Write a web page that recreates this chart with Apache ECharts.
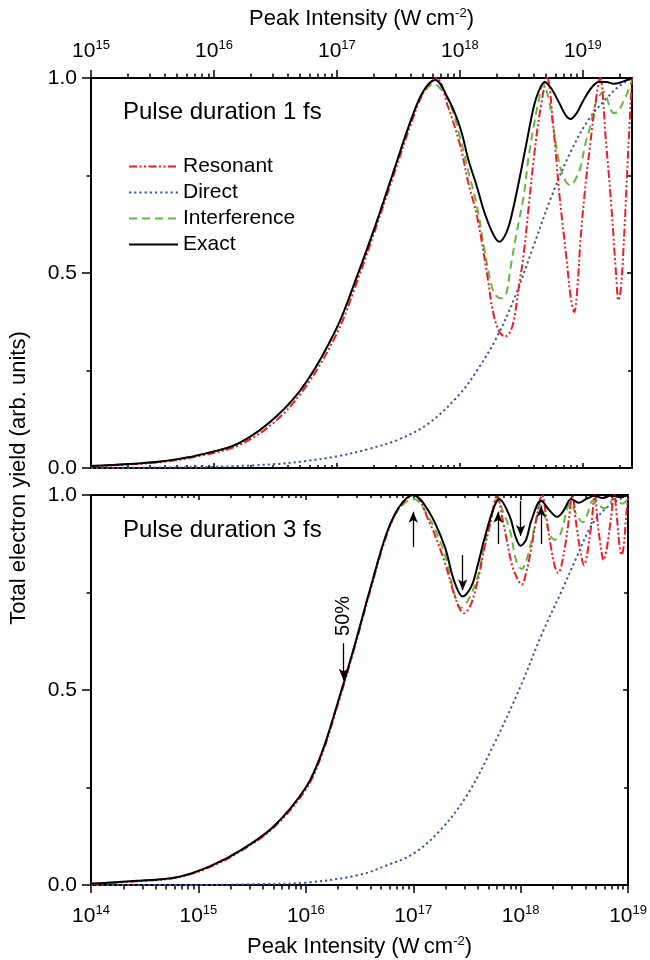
<!DOCTYPE html>
<html><head><meta charset="utf-8">
<script src="https://cdn.jsdelivr.net/npm/echarts@6/dist/echarts.min.js"></script>
<style>html,body{margin:0;padding:0;background:#fff}#c{width:650px;height:960px}</style>
</head><body><div id="c"></div>
<script>
// ---------- DATA (x = log10 of peak intensity in W cm^-2, y = total electron yield) ----------
const seriesNames = ['Resonant', 'Direct', 'Interference', 'Exact'];
const panelLabels = ['Pulse duration 1 fs', 'Pulse duration 3 fs'];
const yTickLabels = ['0.0', '0.5', '1.0'];
const topMajorExp = [15, 16, 17, 18, 19];
const bottomMajorExp = [14, 15, 16, 17, 18, 19];
const minorMultipliers = [2, 3, 4, 5, 6, 7, 8, 9];

// 1 fs panel
const fs1ExactX = [15.0,15.3,15.6,15.9,16.2,16.5,16.75,17.0,17.15,17.3,17.45,17.6,17.7,17.8,17.9,18.0,18.07,18.14,18.2,18.27,18.32,18.38,18.43,18.49,18.54,18.6,18.64,18.69,18.75,18.81,18.86,18.9,18.95,19.0,19.07,19.13,19.19,19.25,19.32,19.4];
const fs1ExactY = [0.005,0.01,0.018,0.035,0.063,0.13,0.22,0.36,0.48,0.61,0.75,0.89,0.965,0.995,0.95,0.875,0.79,0.72,0.655,0.60,0.58,0.605,0.66,0.75,0.83,0.925,0.965,0.99,0.97,0.935,0.905,0.895,0.91,0.94,0.975,0.99,0.99,0.985,0.99,1.0];
const fs1ResonantX = [15.0,15.3,15.6,15.9,16.2,16.5,16.75,17.0,17.15,17.3,17.45,17.6,17.7,17.81,17.9,18.0,18.07,18.14,18.22,18.27,18.32,18.37,18.41,18.44,18.48,18.52,18.56,18.6,18.65,18.71,18.76,18.81,18.87,18.9,18.93,18.96,18.98,19.02,19.06,19.1,19.14,19.19,19.23,19.27,19.29,19.31,19.34,19.37,19.4];
const fs1ResonantY = [0.004,0.009,0.016,0.032,0.058,0.12,0.21,0.345,0.465,0.60,0.74,0.88,0.96,1.0,0.93,0.83,0.73,0.645,0.50,0.40,0.35,0.337,0.35,0.38,0.465,0.55,0.67,0.79,0.91,1.0,0.875,0.70,0.53,0.44,0.40,0.48,0.58,0.72,0.83,0.93,1.0,0.83,0.68,0.50,0.43,0.46,0.62,0.82,1.0];
const fs1InterfX = [15.0,15.3,15.6,15.9,16.2,16.5,16.75,17.0,17.15,17.3,17.45,17.6,17.7,17.79,17.86,17.92,18.0,18.07,18.14,18.2,18.26,18.3,18.34,18.38,18.41,18.46,18.52,18.56,18.6,18.64,18.68,18.72,18.76,18.81,18.86,18.9,18.94,18.98,19.02,19.06,19.11,19.17,19.21,19.25,19.29,19.33,19.36,19.4];
const fs1InterfY = [0.005,0.01,0.018,0.035,0.063,0.13,0.22,0.36,0.48,0.61,0.75,0.89,0.96,0.985,0.965,0.935,0.85,0.76,0.67,0.56,0.465,0.44,0.435,0.45,0.51,0.60,0.70,0.80,0.875,0.94,0.985,0.95,0.875,0.78,0.735,0.725,0.74,0.77,0.83,0.875,0.94,0.965,0.935,0.91,0.915,0.94,0.96,0.995];
const fs1DirectX = [15.0,15.5,16.0,16.5,16.75,17.0,17.25,17.5,17.75,18.0,18.15,18.3,18.45,18.6,18.75,18.9,19.05,19.2,19.3,19.4];
const fs1DirectY = [0.0,0.001,0.003,0.01,0.018,0.03,0.048,0.073,0.115,0.19,0.255,0.335,0.44,0.57,0.70,0.81,0.895,0.95,0.98,1.0];

// 3 fs panel
const fs3ExactX = [14.0,14.4,14.8,15.1,15.4,15.7,16.0,16.15,16.3,16.45,16.6,16.75,16.87,17.0,17.14,17.29,17.38,17.46,17.54,17.6,17.66,17.74,17.8,17.9,17.95,18.0,18.05,18.1,18.19,18.27,18.34,18.4,18.47,18.54,18.61,18.69,18.76,18.84,18.92,19.0];
const fs3ExactY = [0.003,0.01,0.02,0.047,0.09,0.15,0.25,0.34,0.47,0.61,0.76,0.90,0.97,1.0,0.96,0.87,0.78,0.74,0.765,0.82,0.885,0.96,0.99,0.944,0.895,0.87,0.885,0.935,0.985,0.96,0.944,0.96,0.99,0.98,0.99,0.998,0.992,0.998,0.995,1.0];
const fs3ResonantX = [14.0,14.4,14.8,15.1,15.4,15.7,16.0,16.15,16.3,16.45,16.6,16.75,16.87,17.0,17.15,17.29,17.4,17.47,17.53,17.6,17.66,17.72,17.78,17.83,17.87,17.92,17.97,18.01,18.05,18.09,18.15,18.2,18.24,18.28,18.32,18.35,18.38,18.42,18.45,18.48,18.52,18.56,18.59,18.62,18.66,18.69,18.72,18.75,18.77,18.8,18.84,18.87,18.9,18.92,18.94,18.96,18.98,19.0];
const fs3ResonantY = [0.003,0.009,0.019,0.045,0.088,0.147,0.245,0.335,0.465,0.605,0.755,0.895,0.968,1.0,0.93,0.83,0.73,0.697,0.715,0.78,0.86,0.93,1.0,0.94,0.885,0.82,0.785,0.77,0.80,0.85,0.944,1.0,0.94,0.87,0.815,0.80,0.82,0.88,0.94,1.0,0.92,0.85,0.82,0.85,0.93,1.0,0.92,0.86,0.833,0.86,0.94,1.0,0.93,0.87,0.846,0.87,0.94,1.0];
const fs3InterfX = [14.0,14.4,14.8,15.1,15.4,15.7,16.0,16.15,16.3,16.45,16.6,16.75,16.87,17.0,17.15,17.29,17.38,17.44,17.5,17.6,17.66,17.72,17.78,17.84,17.9,17.96,18.01,18.05,18.09,18.14,18.18,18.22,18.27,18.32,18.37,18.42,18.46,18.52,18.58,18.62,18.67,18.72,18.78,18.82,18.86,18.9,18.95,19.0];
const fs3InterfY = [0.003,0.01,0.02,0.047,0.09,0.15,0.25,0.34,0.47,0.61,0.76,0.90,0.965,0.99,0.94,0.85,0.75,0.71,0.725,0.79,0.87,0.935,0.99,0.955,0.91,0.83,0.81,0.83,0.87,0.93,0.975,0.95,0.90,0.885,0.90,0.95,0.98,0.95,0.93,0.95,0.985,0.975,0.966,0.975,0.99,0.985,0.978,0.99];
const fs3DirectX = [14.0,15.0,15.5,16.0,16.5,16.75,17.0,17.25,17.5,17.75,18.0,18.2,18.4,18.52,18.67,18.83,19.0];
const fs3DirectY = [0.0,0.0,0.002,0.006,0.026,0.05,0.08,0.14,0.23,0.36,0.51,0.645,0.765,0.84,0.927,0.974,1.0];

// arrows in 3 fs panel (x, from-yield, to-yield)
const arrowX = [17.0, 17.46, 17.79, 18.0, 18.19, 16.35];
const arrowFrom = [0.867, 0.846, 0.874, 0.985, 0.874, 0.62];
const arrowTo = [0.957, 0.756, 0.957, 0.895, 0.972, 0.526];
const halfMarkLabel = '50%';
const halfMarkPos = [16.35, 0.69];

// ---------- STYLE ----------
const FONT = '"Liberation Sans", Arial, Helvetica, sans-serif';
const styles = {
  Resonant: { color: '#ee1c24', type: [8, 2.5, 2, 2.5, 2, 2.5], width: 2 },
  Direct: { color: '#3b54a5', type: [2.2, 3], width: 2 },
  Interference: { color: '#66b846', type: [8, 5], width: 2 },
  Exact: { color: '#000000', type: 'solid', width: 2 }
};

function minorTicks(lo, hi) {
  const out = [];
  for (let n = Math.floor(lo); n < hi; n++) {
    for (const m of minorMultipliers) {
      const v = n + Math.log10(m);
      if (v > lo + 1e-9 && v < hi - 1e-9) out.push(v);
    }
  }
  return out;
}
const pairs = (xs, ys) => xs.map((x, i) => [x, ys[i]]);

const rich = {
  b: { fontSize: 21, fontFamily: FONT, color: '#000', lineHeight: 24 },
  s: { fontSize: 13, fontFamily: FONT, color: '#000', verticalAlign: 'top', lineHeight: 13 }
};
const expLabel = v => '{b|10}{s|' + Math.round(v) + '}';

function xPair(grid, lo, hi, majors, pos, opts) {
  const base = {
    type: 'value', gridIndex: grid, min: lo, max: hi, position: pos,
    splitLine: { show: false }
  };
  const major = Object.assign({}, base, {
    axisLine: { show: true, onZero: false, lineStyle: { color: '#000', width: 2 } },
    axisTick: { show: true, inside: !!opts.inside, length: opts.majorLen, customValues: majors, lineStyle: { color: '#000', width: 1.5 } },
    axisLabel: opts.labels ? { show: true, customValues: majors, formatter: expLabel, rich: rich, margin: opts.margin, color: '#000' } : { show: false }
  });
  if (opts.name) {
    Object.assign(major, {
      name: 'Peak Intensity (W\u2009cm{s|-2})', nameLocation: 'middle', nameGap: opts.nameGap,
      nameTextStyle: { fontSize: 22, fontFamily: FONT, color: '#000', lineHeight: 24, rich: { s: { fontSize: 13, fontFamily: FONT, color: '#000', verticalAlign: 'top', lineHeight: 13 } } }
    });
  }
  const minor = Object.assign({}, base, {
    axisLine: { show: false, onZero: false },
    axisTick: { show: true, inside: !!opts.inside, length: opts.minorLen, customValues: minorTicks(lo, hi), lineStyle: { color: '#000', width: 1.5 } },
    axisLabel: { show: false }
  });
  return [major, minor];
}

function yPair(grid) {
  const base = { type: 'value', gridIndex: grid, min: 0, max: 1, interval: 0.5, splitLine: { show: false } };
  return [
    Object.assign({}, base, {
      position: 'left',
      axisLine: { show: true, onZero: false, lineStyle: { color: '#000', width: 2 } },
      axisTick: { show: true, length: 9, lineStyle: { color: '#000', width: 1.5 } },
      minorTick: { show: true, splitNumber: 2, length: 4.5, lineStyle: { color: '#000', width: 1.5 } },
      axisLabel: { show: true, margin: 14, fontSize: 21, fontFamily: FONT, color: '#000', formatter: v => yTickLabels[Math.round(v * 2)] }
    }),
    Object.assign({}, base, {
      position: 'right',
      axisLine: { show: true, onZero: false, lineStyle: { color: '#000', width: 2 } },
      axisTick: { show: true, inside: true, length: 5, lineStyle: { color: '#000', width: 1.5 } },
      minorTick: { show: true, splitNumber: 2, length: 4, lineStyle: { color: '#000', width: 1.5 } },
      axisLabel: { show: false }
    })
  ];
}

const xAxes = [].concat(
  xPair(0, 15, 19.4, topMajorExp, 'top', { labels: true, majorLen: 8, minorLen: 4.5, margin: 15, name: true, nameGap: 47 }),
  xPair(0, 15, 19.4, topMajorExp, 'bottom', { inside: true, majorLen: 5, minorLen: 3 }),
  xPair(1, 14, 19, bottomMajorExp, 'top', { inside: true, majorLen: 5, minorLen: 3 }),
  xPair(1, 14, 19, bottomMajorExp, 'bottom', { labels: true, majorLen: 8, minorLen: 4.5, margin: 19, name: true, nameGap: 50 })
);
const yAxes = [].concat(yPair(0), yPair(1));

function makeSeries(name, data, xi, yi, extra) {
  const st = styles[name];
  return Object.assign({
    name: name, type: 'line', xAxisIndex: xi, yAxisIndex: yi, data: data,
    showSymbol: false, symbol: 'none', smooth: 0.35, clip: true,
    lineStyle: { color: st.color, width: st.width, type: st.type },
    itemStyle: { color: st.color }, silent: true
  }, extra || {});
}

const arrowLines = arrowX.map((x, i) => [{ coord: [x, arrowFrom[i]] }, { coord: [x, arrowTo[i]] }]);

const series = [
  makeSeries('Direct', pairs(fs1DirectX, fs1DirectY), 0, 0, { z: 2 }),
  makeSeries('Interference', pairs(fs1InterfX, fs1InterfY), 0, 0, { z: 3 }),
  makeSeries('Resonant', pairs(fs1ResonantX, fs1ResonantY), 0, 0, { z: 4 }),
  makeSeries('Exact', pairs(fs1ExactX, fs1ExactY), 0, 0, { z: 5 }),
  makeSeries('Direct', pairs(fs3DirectX, fs3DirectY), 6, 2, { z: 2 }),
  makeSeries('Interference', pairs(fs3InterfX, fs3InterfY), 6, 2, { z: 3 }),
  makeSeries('Resonant', pairs(fs3ResonantX, fs3ResonantY), 6, 2, { z: 4 }),
  makeSeries('Exact', pairs(fs3ExactX, fs3ExactY), 6, 2, {
    z: 5,
    markLine: {
      silent: true, animation: false, symbol: ['none', 'arrow'], symbolSize: [7, 11],
      lineStyle: { color: '#000', width: 1.3, type: 'solid' }, label: { show: false },
      emphasis: { disabled: true }, data: arrowLines
    }
  })
];

const chart = echarts.init(document.getElementById('c'), null, { renderer: 'canvas' });
chart.setOption({
  animation: false,
  backgroundColor: '#fff',
  textStyle: { fontFamily: FONT },
  grid: [
    { left: 91, right: 18, top: 78, height: 390 },
    { left: 91, right: 18, top: 495, height: 390 }
  ],
  xAxis: xAxes,
  yAxis: yAxes,
  legend: {
    data: seriesNames, orient: 'vertical', left: 123, top: 151,
    itemWidth: 49, itemHeight: 2, itemGap: 5, selectedMode: false,
    itemStyle: { color: 'rgba(0,0,0,0)', borderColor: 'rgba(0,0,0,0)', borderWidth: 0 },
    textStyle: { fontSize: 21, fontFamily: FONT, color: '#000' }
  },
  series: series
});

const labelPos = chart.convertToPixel({ xAxisIndex: 6, yAxisIndex: 2 }, halfMarkPos);
chart.setOption({
  graphic: [
    { type: 'text', left: 123, top: 100, style: { text: panelLabels[0], font: '24px ' + FONT, fill: '#000' } },
    { type: 'text', left: 123, top: 518, style: { text: panelLabels[1], font: '24px ' + FONT, fill: '#000' } },
    { type: 'text', x: 19, y: 478, rotation: Math.PI / 2,
      style: { text: 'Total electron yield (arb. units)', font: '22px ' + FONT, fill: '#000', align: 'center', verticalAlign: 'middle' } },
    { type: 'text', x: labelPos[0], y: labelPos[1], rotation: Math.PI / 2,
      style: { text: halfMarkLabel, font: '20px ' + FONT, fill: '#000', align: 'center', verticalAlign: 'middle' } }
  ]
});
</script>
</body></html>
